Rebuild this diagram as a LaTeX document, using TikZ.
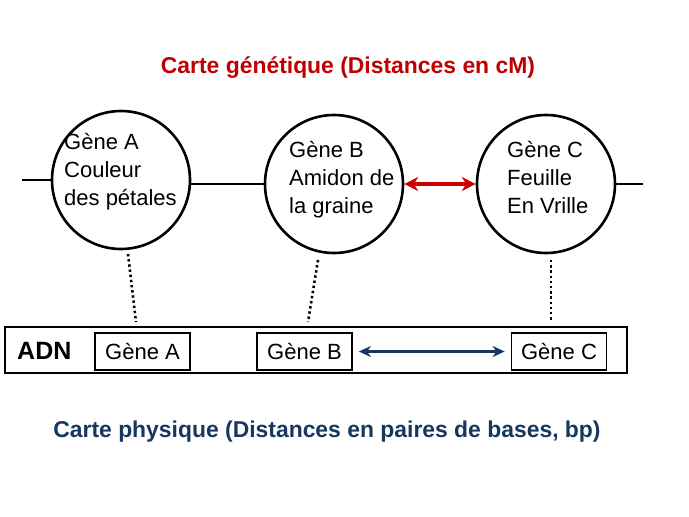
\documentclass[tikz,border=0pt]{standalone}
\usepackage{fontspec}
\setmainfont{Liberation Sans}
\usepackage{tikz}
\usetikzlibrary{arrows.meta}
\usepackage{xcolor}
\definecolor{titrerouge}{RGB}{192,0,0}
\definecolor{flecherouge}{RGB}{204,0,0}
\definecolor{titrebleu}{RGB}{23,55,94}

\begin{document}
\begin{tikzpicture}[x=1pt,y=-1pt,
    gene/.style={draw,circle,line width=2.6pt,fill=white,minimum size=138pt,inner sep=0pt},
    genetext/.style={align=left,anchor=north west,inner sep=0pt,font=\fontsize{22}{28}\selectfont},
    genebox/.style={draw,line width=1.8pt,minimum width=95pt,minimum height=37pt,inner sep=0pt,font=\fontsize{22}{26}\selectfont},
    titre/.style={font=\fontsize{22.9}{26}\selectfont\bfseries},
    lien/.style={line width=2.6pt},
    pointille/.style={line width=2.6pt,dash pattern=on 2.4pt off 2.8pt}]
            \useasboundingbox (0,0) rectangle (689,517);
            % carte genetique
            \node[titre,text=titrerouge] (tgen) at (348,68) {Carte génétique (Distances en cM)};
            \coordinate (gauche) at (22,180);
            \coordinate (droite) at (643,184);
            \node[gene] (cA) at (121,180) {};
            \node[gene] (cB) at (334,184) {};
            \node[gene] (cC) at (546,184) {};
            \draw[lien] (gauche)--(cA.west);
            \draw[lien] (cA.east |- cB.west)--(cB.west);
            \draw[lien] (cC.east)--(droite);
            \draw[lien,line width=3.2pt,flecherouge,{Stealth[length=14pt,width=14pt]}-{Stealth[length=14pt,width=14pt]}] (cB.east)--(cC.west);
            \node[genetext] (tA) at (64,133) {Gène A\\Couleur\\des pétales};
            \node[genetext] (tB) at (289,141) {Gène B\\Amidon de\\la graine};
            \node[genetext] (tC) at (507,141) {Gène C\\Feuille\\En Vrille};
            % carte physique
            \node[draw,line width=2.8pt,minimum width=622pt,minimum height=46pt] (adn) at (316,350) {};
            \node[font=\fontsize{25}{28}\selectfont\bfseries,anchor=west,inner sep=0pt] (tadn) at (17,351) {ADN};
            \node[genebox] (bA) at (142.5,351.5) {Gène A};
            \node[genebox] (bB) at (304.5,351.5) {Gène B};
            \node[genebox] (bC) at (559,351.5) {Gène C};
            \draw[line width=2.6pt,titrebleu,shorten <=6pt,shorten >=6pt,{Stealth[length=12pt,width=11pt]}-{Stealth[length=12pt,width=11pt]}] (bB.east)--(bC.west);
            \node[titre,text=titrebleu] (tphy) at (327,432) {Carte physique (Distances en paires de bases, bp)};
            % liens entre les cartes
            \coordinate (hA) at (128,254);
            \coordinate (hB) at (318,260);
            \coordinate (hC) at (551,260);
            \coordinate (dA) at (136,322);
            \coordinate (dB) at (308,322);
            \coordinate (dC) at (551,322);
            \draw[pointille] (hA)--(dA);
            \draw[pointille] (hB)--(dB);
            \draw[pointille] (hC)--(dC);
        \end{tikzpicture}
\end{document}
